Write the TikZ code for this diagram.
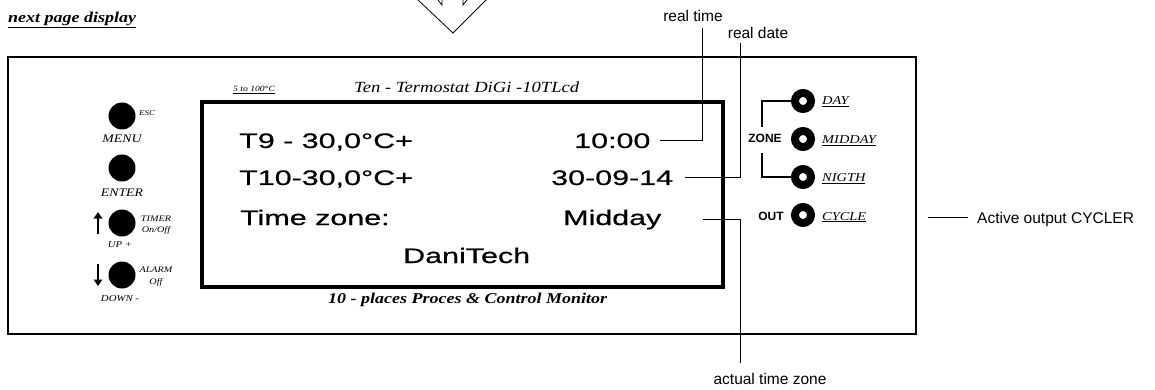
\documentclass[tikz,border=0pt]{standalone}
\usepackage{fontspec}
\setmainfont{Liberation Serif}
\setsansfont{Liberation Sans}
\newfontfamily\lcdfont[FakeStretch=1.45,FakeBold=0.6]{Liberation Sans}
\newfontfamily\wserif[FakeStretch=1.2]{Liberation Serif}
\usetikzlibrary{arrows.meta}
\newcommand\fsz[1]{\fontsize{#1}{#1}\selectfont}
\begin{document}
\begin{tikzpicture}[x=1pt,y=-1pt,
  lcd/.style={font=\lcdfont\fsz{21}, inner sep=0pt, anchor=base west},
  lbl/.style={font=\sffamily\fsz{15.5}, inner sep=0pt, anchor=base},
  conn/.style={line width=0.8pt},
  btn/.style={circle, fill=black, minimum size=27pt, inner sep=0pt},
  led/.style={circle, draw=black, line width=8pt, fill=white, minimum size=16pt, inner sep=0pt},
  keylbl/.style={font=\wserif\itshape\fsz{11.5}, inner sep=0pt, anchor=base},
  smalllbl/.style={font=\wserif\itshape\fsz{8.5}, inner sep=0pt, anchor=base},
  ledlbl/.style={font=\wserif\itshape\fsz{12}, inner sep=0pt, anchor=base west},
  bold/.style={font=\sffamily\bfseries\fsz{12}, inner sep=0pt, anchor=base},
  bracket/.style={line width=2pt},
  keyarrow/.style={line width=2.8pt, -{Triangle[width=8.5pt,length=6.5pt]}}
]
\useasboundingbox (0,0) rectangle (1155,390);

% heading and top arrow
\node[font=\wserif\bfseries\itshape\fsz{15}, inner sep=0pt, anchor=base west] (next) at (8,23) {\underline{next page display}};
\draw[line width=0.8pt] (418,0) -- (453,33) -- (486,0);
\draw[line width=0.8pt] (438,0) -- (442,5) -- (442,0);
\draw[line width=0.8pt] (467,0) -- (463,5) -- (463,0);

% panel and display
\draw[line width=1.5pt] (8,57) rectangle (916,334);
\draw[line width=4pt] (202,102) rectangle (723,287);
\node[font=\wserif\itshape\fsz{8}, inner sep=0pt, anchor=base west] (range) at (233,92) {\underline{5 to 100°C}};
\node[font=\wserif\itshape\fsz{15.5}, inner sep=0pt, anchor=base west] (title) at (354,93) {Ten - Termostat DiGi -10TLcd};
\node[font=\wserif\bfseries\itshape\fsz{15}, inner sep=0pt, anchor=base west] (sub) at (328,303) {10 - places Proces \& Control Monitor};

% display text
\node[lcd] (t9) at (239,148) {T9 - 30,0°C+};
\node[lcd] (tm) at (574,148) {10:00};
\node[lcd] (t10) at (239,185) {T10-30,0°C+};
\node[lcd] (dt) at (551,185) {30-09-14};
\node[lcd] (tz) at (240,225) {Time zone:};
\node[lcd] (md) at (563,225) {Midday};
\node[lcd] (dani) at (403,263) {DaniTech};

% left keys
\node[btn] (menu) at (122,116) {};
\node[smalllbl, anchor=base west, font=\wserif\itshape\fsz{7.5}] (esc) at (139,116) {ESC};
\node[keylbl] (menul) at (122,143) {MENU};
\node[btn] (enter) at (122,168) {};
\node[keylbl] (enterl) at (122,196) {ENTER};
\node[btn] (up) at (122,223) {};
\node[smalllbl] (timer) at (156,221) {TIMER};
\node[smalllbl] (onoff) at (156,232) {On/Off};
\node[keylbl, font=\wserif\itshape\fsz{9}] (upl) at (120,247) {UP +};
\draw[keyarrow] (98,234) -- (98,212);
\node[btn] (down) at (122,275) {};
\node[smalllbl] (alarm) at (156,272) {ALARM};
\node[smalllbl] (off) at (156,284) {Off};
\node[keylbl, font=\wserif\itshape\fsz{9}] (downl) at (120,301) {DOWN -};
\draw[keyarrow] (98,264) -- (98,286);

% right LEDs
\coordinate (zt) at (762,127);
\coordinate (zb) at (762,153);
\coordinate (dayc) at (803,101);
\coordinate (nigthc) at (803,177);
\draw[bracket] (dayc) -| (zt);
\draw[bracket] (nigthc) -| (zb);
\node[led] (day) at (dayc) {};
\node[led] (midday) at (803,139) {};
\node[led] (nigth) at (nigthc) {};
\node[led] (cycle) at (803,215) {};
\node[ledlbl] (dayl) at (822,105) {\underline{DAY}};
\node[ledlbl] (middayl) at (822,144) {\underline{MIDDAY}};
\node[ledlbl] (nigthl) at (822,182) {\underline{NIGTH}};
\node[ledlbl] (cyclel) at (822,220) {\underline{CYCLE}};
\node[bold] (zone) at (765,143) {ZONE};
\node[bold] (out) at (771,220) {OUT};

% callouts
\node[lbl] (rtl) at (693,22) {real time};
\node[lbl] (rdl) at (758,39) {real date};
\node[lbl] (azl) at (770,384) {actual time zone};
\node[lbl, anchor=base west] (aol) at (977,223) {Active output CYCLER};
\coordinate (rtc) at (702,28);
\coordinate (rdc) at (740,43);
\coordinate (azc) at (740,363);
\coordinate (ao1) at (928,217);
\coordinate (ao2) at (968,217);
\draw[conn] ([xshift=9pt]tm.east) -| (rtc);
\draw[conn] ([xshift=12pt]dt.east) -| (rdc);
\draw[conn] ([xshift=41pt]md.east) -| (azc);
\draw[conn] (ao1) -- (ao2);
\end{tikzpicture}
\end{document}
